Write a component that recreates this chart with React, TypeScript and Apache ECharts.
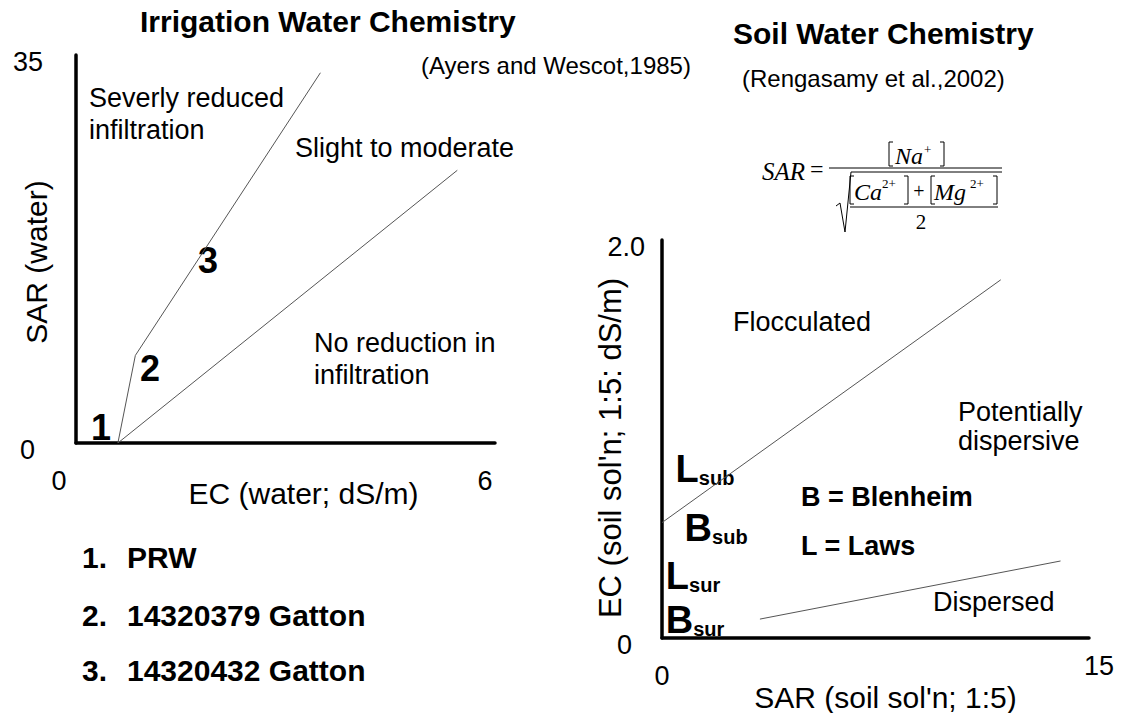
import React, { useEffect, useRef } from "react";
import * as echarts from "echarts";

const FONT = "'Liberation Sans', Arial, sans-serif";
const SERIF = "'Liberation Serif', 'Times New Roman', serif";

// ---- Left chart: Irrigation water chemistry (Ayers and Wescot, 1985)
const waterEcRange = [0, 6];
const waterSarRange = [0, 35];
const severeBoundary = [[0.6, 0], [0.85, 7.9], [3.5, 33.4]];
const slightBoundary = [[0.6, 0], [5.46, 24.6]];
const waterSampleNames = ["1", "2", "3"];
const waterSampleEc = [0.36, 1.06, 1.89];
const waterSampleSar = [1.44, 6.7, 16.5];
const legendItems = ["PRW", "14320379 Gatton", "14320432 Gatton"];

// ---- Right chart: Soil water chemistry (Rengasamy et al., 2002)
const soilSarRange = [0, 15];
const soilEcRange = [0, 2];
const flocBoundary = [[0, 0.58], [11.9, 1.8]];
const dispBoundary = [[3.44, 0.095], [14.0, 0.387]];
const soilSampleSite = ["L", "B", "L", "B"];
const soilSampleDepth = ["sub", "sub", "sur", "sur"];
const soilSampleSar = [1.51, 1.9, 1.09, 1.16];
const soilSampleEc = [0.834, 0.538, 0.295, 0.075];

type TOpts = { weight?: string; align?: string; valign?: string; family?: string; style?: string };
const txt = (text: string, x: number, y: number, size: number, o: TOpts = {}) => ({
  type: "text",
  x,
  y,
  silent: true,
  style: {
    text,
    fill: "#000",
    fontSize: size,
    fontFamily: o.family || FONT,
    fontWeight: o.weight || "normal",
    fontStyle: o.style || "normal",
    textAlign: o.align || "left",
    textVerticalAlign: o.valign || "middle",
    align: o.align || "left",
    verticalAlign: o.valign || "middle",
  },
});
const pl = (points: number[][], w = 1) => ({
  type: "polyline",
  silent: true,
  shape: { points },
  style: { stroke: "#000", lineWidth: w, fill: null },
});
const ln = (x1: number, y1: number, x2: number, y2: number, w = 1) => ({
  type: "line",
  silent: true,
  shape: { x1, y1, x2, y2 },
  style: { stroke: "#000", lineWidth: w },
});
const lbr = (x: number, y1: number, y2: number) => pl([[x + 4, y1], [x, y1], [x, y2], [x + 4, y2]]);
const rbr = (x: number, y1: number, y2: number) => pl([[x - 4, y1], [x, y1], [x, y2], [x - 4, y2]]);

const axisCommon = {
  type: "value",
  nameMoveOverlap: false,
  axisLine: { show: true, onZero: false, lineStyle: { color: "#000", width: 3.5 } },
  axisTick: { show: false },
  splitLine: { show: false },
};
const lab = (extra: object) => ({ fontSize: 27, fontFamily: FONT, color: "#000", ...extra });
const nameStyle = (size: number, padding: number[]) => ({
  fontSize: size,
  fontFamily: FONT,
  color: "#000",
  padding,
});

export default function App() {
  const ref = useRef<HTMLDivElement>(null);
  useEffect(() => {
    if (!ref.current) return;
    const chart = echarts.init(ref.current, undefined, { renderer: "svg" });

    const formula = [
      txt("SAR", 762, 171, 25, { family: SERIF, style: "italic" }),
      txt("=", 810, 169, 24, { family: SERIF }),
      ln(829, 168, 1002, 168),
      lbr(889, 142, 166),
      txt("Na", 895, 156, 24, { family: SERIF, style: "italic" }),
      txt("+", 924, 149, 13, { family: SERIF }),
      rbr(944, 142, 166),
      pl([[836, 206], [840, 203], [845, 232], [851, 172], [1002, 172]]),
      lbr(850, 176, 204),
      txt("Ca", 854, 192, 24, { family: SERIF, style: "italic" }),
      txt("2+", 882, 183, 13, { family: SERIF }),
      rbr(908, 176, 204),
      txt("+", 919, 191, 20, { family: SERIF, align: "center" }),
      lbr(931, 176, 204),
      txt("Mg", 934, 192, 24, { family: SERIF, style: "italic" }),
      txt("2+", 970, 183, 13, { family: SERIF }),
      rbr(997, 176, 204),
      ln(850, 207, 998, 207),
      txt("2", 921, 222, 21, { family: SERIF, align: "center" }),
    ];

    const graphics = [
      txt("Irrigation Water Chemistry", 140, 21, 30, { weight: "bold" }),
      txt("(Ayers and Wescot,1985)", 421, 65, 24),
      txt("Severly reduced", 89, 98, 27),
      txt("infiltration", 89, 130, 27),
      txt("Slight to moderate", 295, 148, 27),
      txt("No reduction in", 314, 343, 27),
      txt("infiltration", 314, 375, 27),
      ...legendItems.flatMap((it, i) => [
        txt(`${i + 1}.`, 82, [557, 615, 670][i], 30, { weight: "bold" }),
        txt(it, 127, [557, 615, 670][i], 30, { weight: "bold" }),
      ]),
      txt("Soil Water Chemistry", 733, 33, 30, { weight: "bold" }),
      txt("(Rengasamy et al.,2002)", 742, 78, 24),
      txt("Flocculated", 733, 322, 27),
      txt("Potentially", 958, 412, 27),
      txt("dispersive", 958, 441, 27),
      txt("B = Blenheim", 801, 497, 27, { weight: "bold" }),
      txt("L = Laws", 801, 546, 27, { weight: "bold" }),
      txt("Dispersed", 933, 602, 27),
      ...formula,
    ];

    const boundaryLine = (data: number[][], idx: number) => ({
      type: "line",
      xAxisIndex: idx,
      yAxisIndex: idx,
      data,
      symbol: "none",
      silent: true,
      lineStyle: { color: "#555", width: 1 },
    });

    const sampleLabelBase = {
      show: true,
      position: "inside",
      color: "#000",
      opacity: 1,
      textBorderWidth: 0,
      textShadowBlur: 0,
    };

    chart.setOption({
      animation: false,
      backgroundColor: "#fff",
      grid: [
        { left: 76, top: 55, width: 419, height: 388, containLabel: false, outerBoundsMode: "none" },
        { left: 662, top: 240, width: 427, height: 398, containLabel: false, outerBoundsMode: "none" },
      ],
      xAxis: [
        {
          ...axisCommon,
          gridIndex: 0,
          min: waterEcRange[0],
          max: waterEcRange[1],
          interval: waterEcRange[1],
          axisLabel: {
            margin: 24,
            formatter: (v: number) => (v === 0 ? "{a|0}" : `{b|${v}}`),
            rich: { a: lab({ padding: [0, 34, 0, 0] }), b: lab({ padding: [0, 20, 0, 0] }) },
          },
          name: "EC (water; dS/m)",
          nameLocation: "middle",
          nameGap: 35,
          nameTextStyle: nameStyle(30, [0, 0, 0, 36]),
        },
        {
          ...axisCommon,
          gridIndex: 1,
          min: soilSarRange[0],
          max: soilSarRange[1],
          interval: soilSarRange[1],
          axisLabel: {
            margin: 14,
            formatter: (v: number) => (v === 0 ? "{a|0}" : `{b|${v}}`),
            rich: { a: lab({ padding: [10, 0, 0, 0] }), b: lab({ padding: [0, 0, 0, 20] }) },
          },
          name: "SAR (soil sol'n; 1:5)",
          nameLocation: "middle",
          nameGap: 44,
          nameTextStyle: nameStyle(30, [0, 0, 0, 20]),
        },
      ],
      yAxis: [
        {
          ...axisCommon,
          gridIndex: 0,
          min: waterSarRange[0],
          max: waterSarRange[1],
          interval: waterSarRange[1],
          axisLabel: {
            margin: 33,
            formatter: (v: number) => (v === 0 ? "{z|0}" : `{t|${v}}`),
            rich: { z: lab({ padding: [14, 8, 0, 0] }), t: lab({ padding: [14, 0, 0, 0] }) },
          },
          name: "SAR (water)",
          nameLocation: "middle",
          nameGap: 25,
          nameTextStyle: nameStyle(30, [0, 26, 0, 0]),
        },
        {
          ...axisCommon,
          gridIndex: 1,
          min: soilEcRange[0],
          max: soilEcRange[1],
          interval: soilEcRange[1],
          axisLabel: {
            margin: 17,
            formatter: (v: number) => (v === 0 ? "{z|0}" : `{t|${v.toFixed(1)}}`),
            rich: { z: lab({ padding: [14, 13, 0, 0] }), t: lab({ padding: [14, 0, 0, 0] }) },
          },
          name: "EC (soil sol'n; 1:5: dS/m)",
          nameLocation: "middle",
          nameGap: 36,
          nameTextStyle: nameStyle(31, [0, 18, 0, 0]),
        },
      ],
      series: [
        boundaryLine(severeBoundary, 0),
        boundaryLine(slightBoundary, 0),
        {
          type: "scatter",
          xAxisIndex: 0,
          yAxisIndex: 0,
          symbolSize: 1,
          silent: true,
          itemStyle: { color: "rgba(0,0,0,0)" },
          data: waterSampleNames.map((n, i) => ({ name: n, value: [waterSampleEc[i], waterSampleSar[i]] })),
          label: {
            ...sampleLabelBase,
            formatter: "{b}",
            fontSize: 36,
            fontWeight: "bold",
            fontFamily: FONT,
          },
        },
        boundaryLine(flocBoundary, 1),
        boundaryLine(dispBoundary, 1),
        {
          type: "scatter",
          xAxisIndex: 1,
          yAxisIndex: 1,
          symbolSize: 1,
          silent: true,
          itemStyle: { color: "rgba(0,0,0,0)" },
          data: soilSampleSite.map((s, i) => ({
            name: s + soilSampleDepth[i],
            value: [soilSampleSar[i], soilSampleEc[i]],
          })),
          label: {
            ...sampleLabelBase,
            formatter: (p: any) => `{big|${soilSampleSite[p.dataIndex]}}{small|${soilSampleDepth[p.dataIndex]}}`,
            rich: {
              big: { fontSize: 38, fontWeight: "bold", fontFamily: FONT, color: "#000", lineHeight: 32, verticalAlign: "bottom" },
              small: {
                fontSize: 20,
                fontWeight: "bold",
                fontFamily: FONT,
                color: "#000",
                lineHeight: 20,
                verticalAlign: "bottom",
              },
            },
          },
        },
      ],
      graphic: graphics,
    });
    return () => chart.dispose();
  }, []);
  return (
    <div
      ref={ref}
      style={{ position: "absolute", left: 0, top: 0, width: 1122, height: 713, background: "#fff" }}
    />
  );
}
